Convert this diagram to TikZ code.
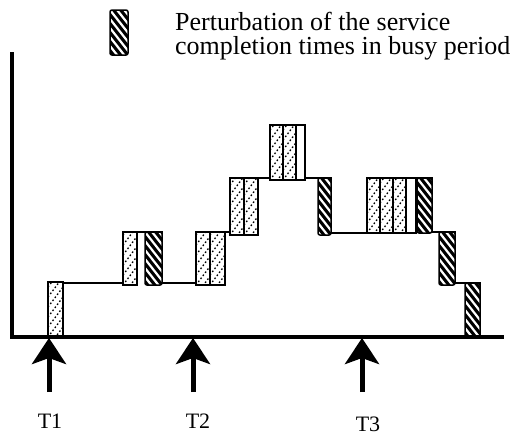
\documentclass[tikz,border=0pt]{standalone}
\usepackage{fontspec}
\setmainfont{Liberation Serif}
\usetikzlibrary{arrows.meta,calc}
\begin{document}
\begin{tikzpicture}[x=1pt,y=-1pt,
  axis/.style={line width=4pt},
  envelope/.style={line width=2.5pt, line join=miter},
  lightbar/.style={draw, line width=2.6pt, fill=white,
    path picture={\foreach \k in {-6,...,9}
      \draw[black, line width=1.3pt, dash pattern=on 1.6pt off 2.2pt]
        ([yshift=\k*10pt]path picture bounding box.south west) -- ++(30,-40);}},
  darkbar/.style={draw, line width=1.5pt, fill=black, rounded corners=2pt,
    path picture={\foreach \k in {-6,...,9}
      \draw[white, line width=2.2pt]
        ([yshift=-\k*9pt]path picture bounding box.north west) -- ++(30,38);}},
  framebox/.style={draw, line width=2.6pt},
  bigarrow/.style={line width=5pt, -{Stealth[length=26pt,width=34pt,inset=6pt]}},
  tlabel/.style={font=\fontsize{22}{24}\selectfont, inner sep=0pt},
  legendtext/.style={font=\fontsize{26}{24}\selectfont, anchor=base west, inner sep=0pt}
]
\useasboundingbox (0,0) rectangle (526,437);

% legend
\path[darkbar] (110,10) rectangle (128,55);
\node[legendtext] (leg1) at (175,30) {Perturbation of the service};
\node[legendtext] (leg2) at (175,54) {completion times in busy period};

% envelope of the busy period
\draw[envelope] (48,337) -- (48,283) -- (123,283) -- (123,232) -- (162,232)
  -- (162,283) -- (196,283) -- (196,232) -- (230,232) -- (230,178)
  -- (270,178) -- (270,125) -- (305,125) -- (305,178) -- (331,178)
  -- (331,233) -- (367,233) -- (367,178) -- (432,178) -- (432,232)
  -- (455,232) -- (455,283) -- (480,283) -- (480,337);

% increasing steps (light bars)
\path[lightbar] (48,282) rectangle (63,337);
\path[lightbar] (123,232) rectangle (137,285);
\path[lightbar] (196,232) rectangle (210,285);
\path[lightbar] (210,232) rectangle (225,285);
\path[lightbar] (230,178) rectangle (244,235);
\path[lightbar] (244,178) rectangle (258,235);
\path[framebox] (270,125) rectangle (305,180);
\path[lightbar] (270,125) rectangle (283,180);
\path[lightbar] (283,125) rectangle (296,180);
\path[framebox] (367,178) rectangle (416,233);
\path[lightbar] (367,178) rectangle (380,233);
\path[lightbar] (380,178) rectangle (393,233);
\path[lightbar] (393,178) rectangle (406,233);

% decreasing steps (dark bars)
\path[darkbar] (145,232) rectangle (162,285);
\path[darkbar] (318,178) rectangle (331,235);
\path[darkbar] (417,178) rectangle (432,233);
\path[darkbar] (439,232) rectangle (455,285);
\path[darkbar] (465,283) rectangle (480,338);

% axes
\coordinate (origin) at (12,337);
\coordinate (ytop) at (12,52);
\coordinate (xend) at (504,337);
\draw[axis] (ytop) -- (origin) -- (xend);

% time instants
\node[tlabel] (t1) at (50,421) {T1};
\node[tlabel] (t2) at (198,421) {T2};
\node[tlabel] (t3) at (368,424) {T3};
\coordinate (a1s) at (49,392); \coordinate (a1e) at (49,338);
\coordinate (a2s) at (193,392); \coordinate (a2e) at (193,338);
\coordinate (a3s) at (362,392); \coordinate (a3e) at (362,338);
\draw[bigarrow] (a1s) -- (a1e);
\draw[bigarrow] (a2s) -- (a2e);
\draw[bigarrow] (a3s) -- (a3e);
\end{tikzpicture}
\end{document}
